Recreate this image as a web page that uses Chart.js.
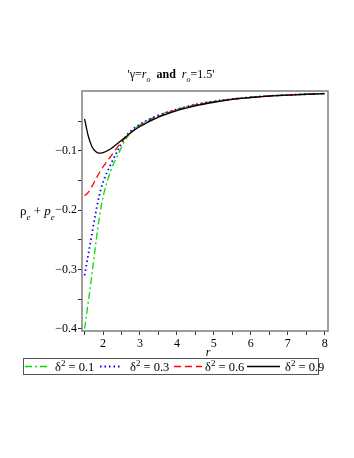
<!DOCTYPE html>
<html>
<head>
<meta charset="utf-8">
<script src="https://cdn.jsdelivr.net/npm/chart.js@4"></script>
<style>
  html, body { margin: 0; padding: 0; background: #fff; }
  #wrap { width: 354px; height: 458px; }
</style>
</head>
<body>
<div id="wrap"><canvas id="chart" width="354" height="458"></canvas></div>
<script>
const rValues = [1.5, 1.6, 1.7, 1.8, 1.9, 2.0, 2.2, 2.4, 2.6, 2.8, 3.0, 3.5, 4.0, 4.5, 5.0, 5.5, 6.0, 6.5, 7.0, 7.5, 8.0];

const delta01 = [-0.400, -0.355, -0.308, -0.258, -0.212, -0.178, -0.135, -0.107, -0.082, -0.066, -0.056, -0.040, -0.030, -0.022, -0.0165, -0.0125, -0.0095, -0.0072, -0.0057, -0.0044, -0.0034];
const delta03 = [-0.310, -0.275, -0.240, -0.205, -0.175, -0.153, -0.124, -0.099, -0.077, -0.064, -0.055, -0.040, -0.030, -0.022, -0.0165, -0.0125, -0.0095, -0.0072, -0.0057, -0.0044, -0.0034];
const delta06 = [-0.176, -0.170, -0.160, -0.148, -0.137, -0.127, -0.110, -0.093, -0.078, -0.067, -0.058, -0.042, -0.031, -0.023, -0.0172, -0.0130, -0.0098, -0.0074, -0.0058, -0.0045, -0.0035];
const delta09 = [-0.046, -0.075, -0.093, -0.101, -0.104, -0.103, -0.097, -0.087, -0.077, -0.067, -0.059, -0.043, -0.032, -0.024, -0.0180, -0.0130, -0.0100, -0.0075, -0.0060, -0.0045, -0.0035];

const seriesLabels = ["0.1", "0.3", "0.6", "0.9"];
const seriesColors = ["#00e000", "#0000ff", "#ff0000", "#000000"];
const seriesDash = [[7, 3, 2, 3], [1.5, 3], [7, 4], []];
const seriesValues = [delta01, delta03, delta06, delta09];

const xTicks = [1.5, 2, 2.5, 3, 3.5, 4, 4.5, 5, 5.5, 6, 6.5, 7, 7.5, 8];

const serif = "'Liberation Serif', 'DejaVu Serif', serif";

function toPoints(ys) {
  return rValues.map((r, i) => ({ x: r, y: ys[i] }));
}

function fontFor(p, size) {
  return (p.italic ? "italic " : "") + (p.bold ? "bold " : "") +
    (p.sub || p.sup ? Math.round(size * 0.7) : size) + "px " + serif;
}

// text with sub/superscript parts, returns end x
function subText(ctx, parts, x, y, size) {
  for (const p of parts) {
    ctx.font = fontFor(p, size);
    const dy = p.sub ? size * 0.35 : p.sup ? -size * 0.4 : 0;
    ctx.fillText(p.t, x, y + dy);
    x += ctx.measureText(p.t).width;
  }
  return x;
}

function partsWidth(ctx, parts, size) {
  let w = 0;
  for (const p of parts) {
    ctx.font = fontFor(p, size);
    w += ctx.measureText(p.t).width;
  }
  return w;
}

const decorPlugin = {
  id: "decor",
  afterDraw(chart) {
    const ctx = chart.ctx;
    const a = chart.chartArea;
    ctx.save();
    // frame
    ctx.strokeStyle = "#7f7f7f";
    ctx.lineWidth = 1.5;
    ctx.strokeRect(a.left, a.top, a.right - a.left, a.bottom - a.top);

    ctx.fillStyle = "#000";
    ctx.textBaseline = "alphabetic";

    // title
    const title = [
      { t: "'\u03b3=" }, { t: "r", italic: true }, { t: "o", italic: true, sub: true },
      { t: "  and  ", bold: true }, { t: "r", italic: true }, { t: "o", italic: true, sub: true },
      { t: "=1.5'" }
    ];
    const tw = partsWidth(ctx, title, 12);
    subText(ctx, title, 171 - tw / 2, 78, 12);

    // y label
    const yl = [
      { t: "\u03c1" }, { t: "e", italic: true, sub: true }, { t: " + " },
      { t: "p", italic: true }, { t: "e", italic: true, sub: true }
    ];
    subText(ctx, yl, 20, 215, 13);

    // x label
    ctx.font = "italic 12px " + serif;
    ctx.textAlign = "center";
    ctx.fillText("r", 208, 356);
    ctx.textAlign = "left";

    // legend
    const lx = 23, ly = 358, lw = 295, lh = 16;
    ctx.strokeStyle = "#555";
    ctx.lineWidth = 1;
    ctx.strokeRect(lx + 0.5, ly + 0.5, lw, lh);
    const starts = [25, 100, 174, 247];
    const ends = [50, 121, 202, 280];
    const textAt = [55, 130, 205, 285];
    const cy = ly + lh / 2 + 0.5;
    for (let i = 0; i < 4; i++) {
      ctx.strokeStyle = seriesColors[i];
      ctx.lineWidth = i === 1 ? 1.8 : 1.3;
      ctx.setLineDash(seriesDash[i]);
      ctx.beginPath();
      ctx.moveTo(starts[i], cy);
      ctx.lineTo(ends[i], cy);
      ctx.stroke();
      ctx.setLineDash([]);
      ctx.fillStyle = "#000";
      subText(ctx, [{ t: "\u03b4" }, { t: "2", sup: true }, { t: " = " + seriesLabels[i] }],
        textAt[i], ly + 13, 12.5);
    }
    ctx.restore();
  }
};

const datasets = seriesValues.map((vals, i) => ({
  label: "\u03b4\u00b2 = " + seriesLabels[i],
  data: toPoints(vals),
  borderColor: seriesColors[i],
  borderDash: seriesDash[i],
  borderWidth: i === 1 ? 1.8 : 1.3,
  pointRadius: 0,
  fill: false,
  showLine: true,
  cubicInterpolationMode: "monotone",
  order: 4 - i
}));

new Chart(document.getElementById("chart"), {
  type: "scatter",
  data: { datasets },
  options: {
    responsive: false,
    animation: false,
    layout: { padding: { left: 0, right: 26, top: 91, bottom: 97 } },
    plugins: {
      legend: { display: false },
      title: { display: false },
      tooltip: { enabled: false }
    },
    scales: {
      x: {
        type: "linear",
        min: 1.43,
        max: 8.09,
        afterFit(s) { s.height = 30; },
        afterBuildTicks(s) { s.ticks = xTicks.map(v => ({ value: v })); },
        grid: { drawOnChartArea: false, tickLength: 4, color: "#333", tickWidth: 1 },
        border: { display: false },
        ticks: {
          autoSkip: false,
          maxRotation: 0,
          color: "#000",
          padding: 2,
          font: { family: serif, size: 12 },
          callback: v => (Number.isInteger(v) ? String(v) : "")
        }
      },
      y: {
        min: -0.404,
        max: 0.001,
        afterFit(s) { s.width = 82; },
        afterBuildTicks(s) {
          s.ticks = [-0.4, -0.35, -0.3, -0.25, -0.2, -0.15, -0.1, -0.05].map(v => ({ value: v }));
        },
        grid: { drawOnChartArea: false, tickLength: 4, color: "#333", tickWidth: 1 },
        border: { display: false },
        ticks: {
          autoSkip: false,
          color: "#000",
          padding: 1,
          font: { family: serif, size: 12 },
          callback: v => {
            const k = Math.round(v * 100);
            return k % 10 === 0 ? "\u2212" + (Math.abs(k) / 100).toFixed(1) : "";
          }
        }
      }
    }
  },
  plugins: [decorPlugin]
});
</script>
</body>
</html>
